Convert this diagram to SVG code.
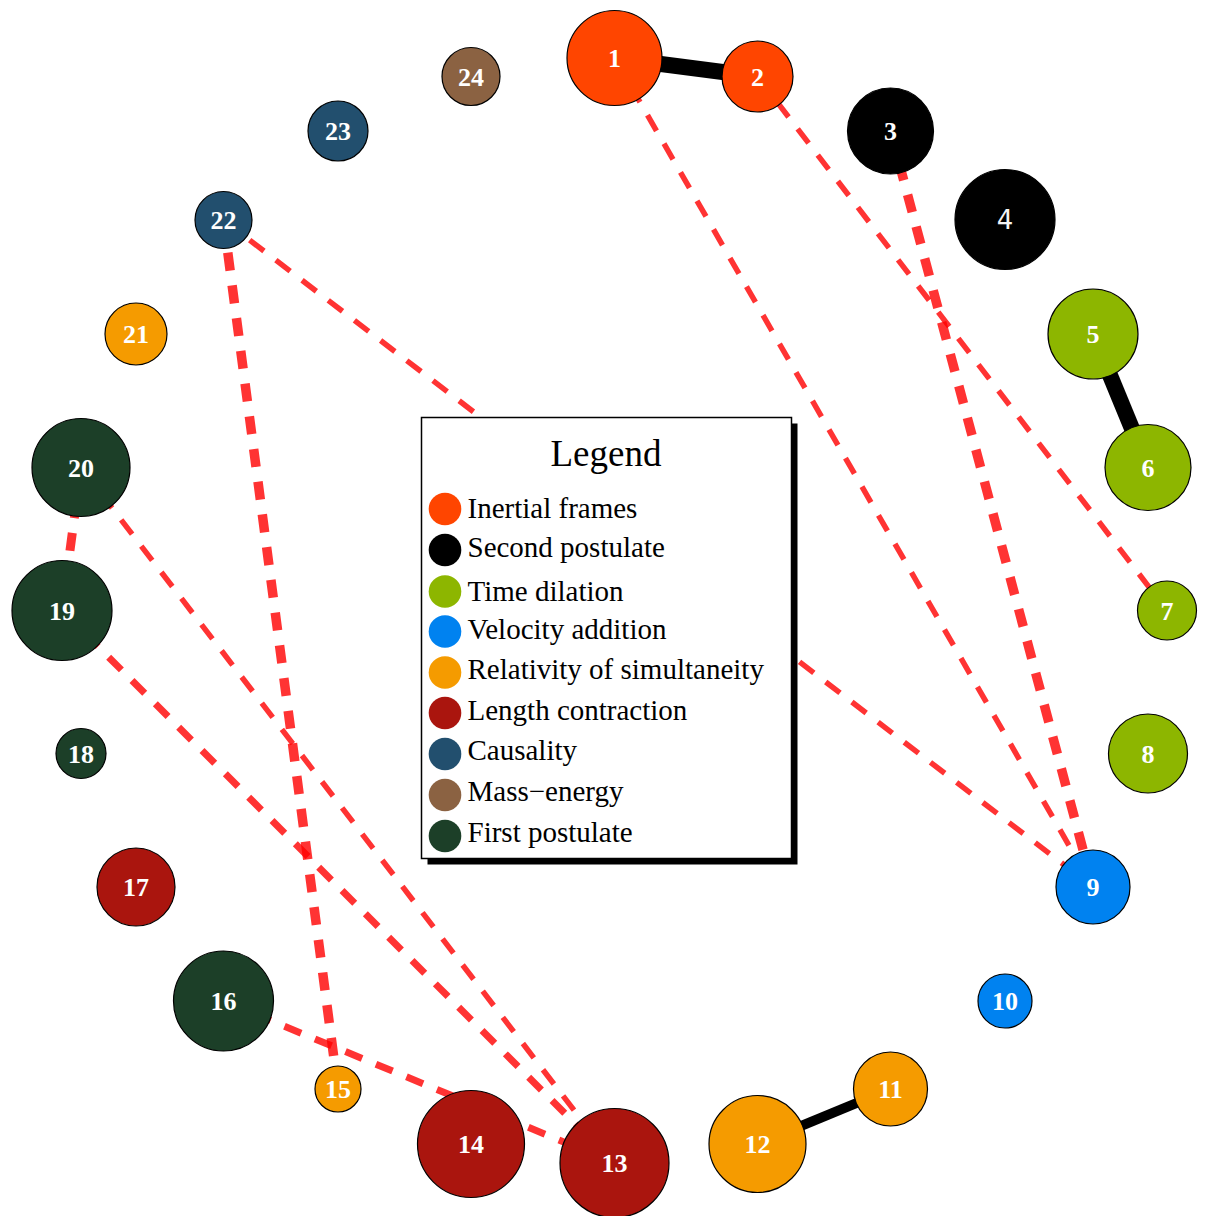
<svg xmlns="http://www.w3.org/2000/svg" width="1205" height="1216" viewBox="0 0 1205 1216">
<style>
.n circle{stroke:#000;stroke-width:1.2}
.n text{font-family:"Liberation Serif","Times New Roman",serif;font-weight:bold;font-size:26px;fill:#fff;text-anchor:middle}
.solid{stroke:#000;fill:none}
.dash{stroke:#ff0000;stroke-opacity:0.8;fill:none;stroke-dasharray:18 15}
.lg text{font-family:"Liberation Serif","Times New Roman",serif;font-size:29px;fill:#000}
.c1{fill:#ff4500}.c2{fill:#000}.c3{fill:#8db600}.c4{fill:#0082f0}.c5{fill:#f59b00}.c6{fill:#aa150e}.c7{fill:#224f6e}.c8{fill:#8b6242}.c9{fill:#1c3f28}
</style>
<rect width="1205" height="1216" fill="#fff"/>
<g id="connectors">
<line class="solid" x1="614.5" y1="58" x2="757.5" y2="76.5" stroke-width="16"/>
<line class="solid" x1="1093" y1="334" x2="1148" y2="467.5" stroke-width="16"/>
<line class="solid" x1="890.5" y1="1089" x2="757.5" y2="1144" stroke-width="10"/>
<line class="dash" x1="614.5" y1="58" x2="1093" y2="887" stroke-width="5.5"/>
<line class="dash" x1="757.5" y1="76.5" x2="1167" y2="610.5" stroke-width="5.5"/>
<line class="dash" x1="890.5" y1="131" x2="1093" y2="887" stroke-width="9.5"/>
<line class="dash" x1="223.5" y1="220" x2="338" y2="1089" stroke-width="9.5"/>
<line class="dash" x1="223.5" y1="220" x2="1093" y2="887" stroke-width="5.5"/>
<line class="dash" x1="81" y1="467.5" x2="62" y2="610.5" stroke-width="9"/>
<line class="dash" x1="81" y1="467.5" x2="614.5" y2="1163" stroke-width="5.5"/>
<line class="dash" x1="62" y1="610.5" x2="614.5" y2="1163" stroke-width="7"/>
<line class="dash" x1="223.5" y1="1001" x2="614.5" y2="1163" stroke-width="7"/>
</g>
<g id="node1" class="n"><circle class="c1" cx="614.5" cy="58" r="47.5"/><text x="614.5" y="67">1</text></g>
<g id="node2" class="n"><circle class="c1" cx="757.5" cy="76.5" r="35.5"/><text x="757.5" y="85.5">2</text></g>
<g id="node3" class="n"><circle class="c2" cx="890.5" cy="131" r="43"/><text x="890.5" y="140">3</text></g>
<g id="node4" class="n"><circle class="c2" cx="1005" cy="219.5" r="50"/><text x="1005" y="229" style="font-family:'DejaVu Sans',sans-serif;font-weight:normal;font-size:26px;fill:#f4f4f4">4</text></g>
<g id="node5" class="n"><circle class="c3" cx="1093" cy="334" r="45"/><text x="1093" y="343">5</text></g>
<g id="node6" class="n"><circle class="c3" cx="1148" cy="467.5" r="43"/><text x="1148" y="476.5">6</text></g>
<g id="node7" class="n"><circle class="c3" cx="1167" cy="610.5" r="29.5"/><text x="1167" y="619.5">7</text></g>
<g id="node8" class="n"><circle class="c3" cx="1148" cy="753.5" r="39.5"/><text x="1148" y="762.5">8</text></g>
<g id="node9" class="n"><circle class="c4" cx="1093" cy="887" r="37"/><text x="1093" y="896">9</text></g>
<g id="node10" class="n"><circle class="c4" cx="1005" cy="1001" r="27"/><text x="1005" y="1010">10</text></g>
<g id="node11" class="n"><circle class="c5" cx="890.5" cy="1089" r="37"/><text x="890.5" y="1098">11</text></g>
<g id="node12" class="n"><circle class="c5" cx="757.5" cy="1144" r="48.5"/><text x="757.5" y="1153">12</text></g>
<g id="node13" class="n"><circle class="c6" cx="614.5" cy="1163" r="54.5"/><text x="614.5" y="1172">13</text></g>
<g id="node14" class="n"><circle class="c6" cx="471" cy="1144" r="53.5"/><text x="471" y="1153">14</text></g>
<g id="node15" class="n"><circle class="c5" cx="338" cy="1089" r="23"/><text x="338" y="1098">15</text></g>
<g id="node16" class="n"><circle class="c9" cx="223.5" cy="1001" r="50"/><text x="223.5" y="1010">16</text></g>
<g id="node17" class="n"><circle class="c6" cx="136" cy="887" r="39"/><text x="136" y="896">17</text></g>
<g id="node18" class="n"><circle class="c9" cx="81" cy="753.5" r="25"/><text x="81" y="762.5">18</text></g>
<g id="node19" class="n"><circle class="c9" cx="62" cy="610.5" r="50"/><text x="62" y="619.5">19</text></g>
<g id="node20" class="n"><circle class="c9" cx="81" cy="467.5" r="49"/><text x="81" y="476.5">20</text></g>
<g id="node21" class="n"><circle class="c5" cx="136" cy="334" r="31"/><text x="136" y="343">21</text></g>
<g id="node22" class="n"><circle class="c7" cx="223.5" cy="220" r="28.5"/><text x="223.5" y="229">22</text></g>
<g id="node23" class="n"><circle class="c7" cx="338" cy="131" r="30"/><text x="338" y="140">23</text></g>
<g id="node24" class="n"><circle class="c8" cx="471" cy="76.5" r="29"/><text x="471" y="85.5">24</text></g>
<g id="legend" class="lg">
<rect x="427.5" y="423.5" width="370" height="441" fill="#000"/>
<rect x="421.5" y="417.5" width="370" height="441" fill="#fff" stroke="#000" stroke-width="1.5"/>
<text x="606" y="466" text-anchor="middle" style="font-size:37px">Legend</text>
<circle class="c1" cx="445" cy="509" r="16.3"/><text x="467.5" y="518">Inertial frames</text>
<circle class="c2" cx="445" cy="550" r="16.3"/><text x="467.5" y="557">Second postulate</text>
<circle class="c3" cx="445" cy="591.5" r="16.3"/><text x="467.5" y="601">Time dilation</text>
<circle class="c4" cx="445" cy="631.5" r="16.3"/><text x="467.5" y="639">Velocity addition</text>
<circle class="c5" cx="445" cy="672.5" r="16.3"/><text x="467.5" y="679">Relativity of simultaneity</text>
<circle class="c6" cx="445" cy="713" r="16.3"/><text x="467.5" y="720">Length contraction</text>
<circle class="c7" cx="445" cy="754" r="16.3"/><text x="467.5" y="760">Causality</text>
<circle class="c8" cx="445" cy="795" r="16.3"/><text x="467.5" y="801">Mass−energy</text>
<circle class="c9" cx="445" cy="836" r="16.3"/><text x="467.5" y="842">First postulate</text>
</g>
</svg>
